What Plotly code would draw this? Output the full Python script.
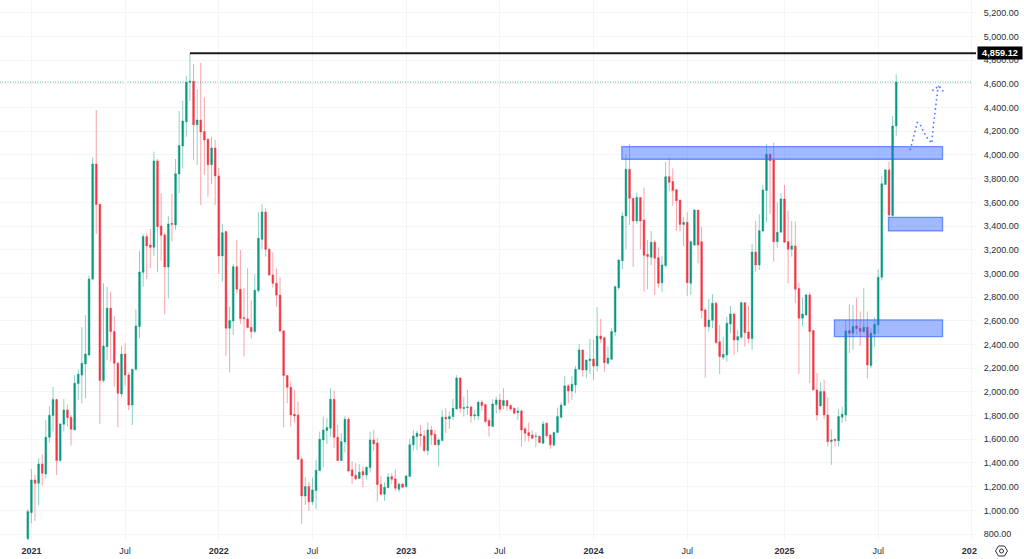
import pandas as pd
import plotly.graph_objects as go

# weekly candles
opens = [
    760,981,1257,1229,1392,1308,1617,1800,1935,1420,
    1727,1848,1786,1679,2070,2143,2236,2312,2951,3924,
    3584,2096,2382,2706,2509,2242,1983,2320,2143,1890,
    2191,2551,3010,3311,3240,3221,3949,3401,3325,3055,
    3423,3409,3840,4076,4281,4613,4622,4256,4295,4197,
    4132,3918,4059,3823,3148,3353,2537,2599,3057,2866,
    2627,2616,2546,2509,2855,
    3288,3519,3204,2987,2917,2818,2515,2138,2039,1811,
    1806,1432,1122,1201,1072,1167,1336,1595,1674,1693,
    1938,1617,1420,1578,1769,1342,1297,1269,1328,1299,
    1361,1595,1569,1218,1136,1192,1285,1266,1178,1223,
    1201,1285,1553,1623,1643,1628,1505,1679,1643,1553,
    1589,1786,1772,1792,1856,2118,1859,1868,1873,1797,
    1797,1913,1893,1758,1707,1893,1932,1885,1927,1885,
    1862,1825,1839,1688,1657,1637,1623,1626,1567,1736,
    1637,1550,1657,1786,1887,2051,2008,2059,2191,2354,
    2185,2264,2278,2219,
    2472,2458,2241,2275,2506,2880,3108,3485,3879,3634,
    3443,3642,3451,3159,3136,3263,3133,2922,3066,3817,
    3775,3707,3620,3414,3431,2917,3240,3535,3268,2692,
    2551,2604,2748,2424,2292,2312,2573,2658,2438,2461,
    2753,2506,2450,3181,3071,3358,3699,4005,3957,3268,
    3348,3629,3269,3204,3232,2872,2622,2650,2819,2518,
    2017,1882,2003,1806,1581,1601,1587,1786,1806,2518,
    2495,2557,2537,2509,2546,2222,2490,2566,2968,3750,
    3874,3488,4245,
]
closes = [
    990,1257,1229,1392,1314,1617,1803,1935,1420,1730,
    1848,1783,1685,2073,2149,2242,2320,2954,3924,3581,
    2096,2388,2706,2509,2242,1989,2320,2143,1890,2191,
    2557,3013,3311,3232,3221,3949,3395,3322,3055,3418,
    3415,3842,4079,4287,4613,4622,4256,4295,4194,4127,
    3918,4059,3823,3148,3344,2537,2602,3057,2866,2619,
    2619,2543,2509,2858,3297,
    3519,3204,2987,2917,2818,2515,2138,2039,1806,1797,
    1432,1122,1201,1072,1173,1339,1600,1679,1699,1938,
    1617,1420,1581,1769,1333,1291,1266,1322,1299,1364,
    1595,1561,1218,1136,1195,1282,1263,1187,1221,1195,
    1291,1555,1628,1651,1631,1505,1679,1637,1553,1595,
    1786,1772,1792,1862,2118,1862,1868,1873,1797,1806,
    1913,1885,1750,1713,1898,1932,1854,1927,1882,1856,
    1820,1839,1679,1651,1631,1609,1626,1572,1730,1631,
    1553,1657,1792,1890,2051,2008,2065,2191,2354,2185,
    2270,2278,2219,2472,
    2447,2247,2286,2509,2888,3113,3485,3879,3634,3443,
    3642,3443,3153,3142,3263,3128,2917,3071,3817,3769,
    3699,3614,3414,3431,2922,3268,3535,3240,2686,2551,
    2607,2748,2416,2298,2317,2579,2658,2438,2467,2753,
    2500,2450,3181,3071,3361,3704,4005,3952,3268,3347,
    3629,3263,3204,3232,2867,2622,2658,2819,2509,2017,
    1806,2003,1806,1581,1595,1590,1792,1812,2515,2495,
    2552,2535,2509,2546,2228,2495,2571,2968,3756,3874,
    3494,4245,4615,
]
highs = [
    1010,1350,1300,1440,1474,1764,1879,2042,1941,1735,
    1941,1893,1806,2143,2191,2546,2647,2982,3980,4380,
    3590,2917,2889,2847,2641,2256,2391,2411,2166,2194,
    2698,3190,3333,3339,3375,4028,3966,3676,3344,3485,
    3671,3966,4371,4458,4667,4859.12,4768,4554,4779,4487,
    4141,4155,4127,3893,3418,3359,2720,3080,3283,3198,
    2875,3043,2770,2993,3519,
    3586,3550,3212,3176,3038,2968,2523,2143,2087,2017,
    1918,1454,1280,1238,1277,1426,1665,1792,1778,2031,
    2011,1721,1651,1797,1786,1412,1398,1390,1370,1370,
    1665,1679,1609,1291,1238,1313,1313,1347,1235,1229,
    1299,1600,1679,1674,1721,1674,1744,1713,1679,1609,
    1848,1862,1834,1941,2141,2124,1960,2017,1885,1848,
    1927,1932,1898,1778,1938,1960,1983,2031,1932,1898,
    1870,1870,1853,1702,1741,1674,1659,1631,1755,1744,
    1643,1665,1868,1913,2135,2068,2135,2219,2405,2354,
    2270,2447,2439,2714,
    2616,2467,2382,2537,2897,3119,3516,4000,4092,3634,
    3682,3642,3724,3282,3358,3282,3220,3147,3943,3972,
    3887,3713,3620,3479,3516,3277,3544,3535,3395,2706,
    2784,2824,2762,2565,2467,2635,2725,2669,2523,2762,
    2759,2725,3248,3443,3499,3746,4092,4014,4104,3600,
    3677,3747,3528,3443,3438,2923,2799,2827,2841,2523,
    2158,2079,2102,1955,1685,1601,1854,1876,2608,2740,
    2734,2791,2678,2875,2678,2537,2630,3035,3823,3882,
    3944,4329,4681,
]
lows = [
    740,892,911,1041,1209,1271,1572,1665,1297,1412,
    1665,1707,1547,1679,1932,1903,1945,2304,2951,3333,
    1730,2079,2270,2256,2045,1702,1960,2050,1848,1721,
    2180,2453,2889,2954,3046,3148,3010,3108,2655,2788,
    3271,3370,3677,3888,4155,4456,3958,3916,3578,3831,
    3648,3755,3578,2996,2931,2304,2163,2481,2832,2574,
    2298,2537,2450,2500,2838,
    3207,3142,2979,2880,2720,2500,1702,1904,1707,1741,
    1426,886,1046,998,1046,1010,1333,1364,1561,1617,
    1525,1420,1420,1488,1328,1223,1257,1263,1195,1263,
    1319,1505,1074,1131,1080,1187,1223,1164,1153,1187,
    1192,1285,1505,1510,1539,1488,1468,1553,1553,1370,
    1581,1651,1688,1764,1853,1825,1792,1806,1741,1764,
    1764,1842,1736,1623,1707,1820,1825,1854,1842,1842,
    1811,1764,1539,1581,1581,1600,1533,1567,1561,1609,
    1519,1544,1657,1778,1887,1904,1932,1989,2185,2129,
    2115,2149,2101,2172,
    2410,2171,2233,2270,2472,2860,3035,3203,3409,3057,
    3417,3203,2846,2866,3069,2818,2880,2846,3052,3699,
    3572,3361,3353,3232,2812,2818,3232,3085,2621,2121,
    2509,2537,2405,2151,2270,2256,2495,2312,2334,2444,
    2382,2410,2354,3015,3029,3350,3429,3502,3099,3218,
    3348,3260,2917,3142,2748,2152,2552,2642,2073,2017,
    1758,1876,1770,1539,1384,1539,1539,1736,1750,2326,
    2355,2481,2388,2495,2115,2200,2377,2495,2940,3747,
    3480,3480,4163,
]
first_week = '2020-12-28'
peak_index = 45
peak_label = '4,859.12'

tick_dates = ['2021-01-04','2021-07-05','2022-01-03','2022-07-04','2023-01-02','2023-07-03',
              '2024-01-01','2024-07-01','2025-01-06','2025-07-07','2026-01-05']
tick_text = ['<b>2021</b>','Jul','<b>2022</b>','Jul','<b>2023</b>','Jul',
             '<b>2024</b>','Jul','<b>2025</b>','Jul','<b>202</b>\u00a0\u00a0']
price_ticks = [800,1000,1200,1400,1600,1800,2000,2200,2400,2600,2800,3000,3200,3400,3600,
               3800,4000,4200,4400,4600,4800,5000,5200]

# hand drawn boxes (start, end, top, bottom)
zone_starts = ['2024-02-25','2025-07-27','2025-04-13']
zone_ends = ['2025-11-09','2025-11-09','2025-11-09']
zone_tops = [4071,3474,2608]
zone_bottoms = [3964,3359,2467]

# dotted projection and its arrow head
path_dates = ['2025-09-07','2025-09-12','2025-09-17','2025-09-21','2025-09-27','2025-10-03',
              '2025-10-11','2025-10-19','2025-10-22','2025-10-27','2025-10-31','2025-11-02']
path_prices = [4042,4127,4225,4273,4253,4197,4141,4099,4239,4436,4563,4583]
head_dates = ['2025-10-20','2025-11-02','2025-11-14']
head_prices = [4543,4583,4515]

green = '#089981'
red = '#F23645'
grid = '#f5f5f6'
text_col = '#2a2e39'

x_start, x_end = '2020-11-04', '2026-01-13'
W, H, R, B = 1024, 559, 48, 19
plot_w, plot_h = W - R, H - B

dates = pd.date_range(first_week, periods=len(opens), freq='7D')

fig = go.Figure()
fig.add_trace(go.Candlestick(
    x=dates, open=opens, high=highs, low=lows, close=closes,
    increasing=dict(line=dict(color='rgba(8,153,129,0.65)', width=0.7), fillcolor=green),
    decreasing=dict(line=dict(color='rgba(242,54,69,0.65)', width=0.7), fillcolor=red),
    whiskerwidth=0,
    showlegend=False,
))
fig.add_trace(go.Scatter(x=path_dates, y=path_prices, mode='lines',
                         line=dict(color='#4f7dff', width=1.6, dash='1.6px,3px'), showlegend=False))
fig.add_trace(go.Scatter(x=head_dates, y=head_prices, mode='lines',
                         line=dict(color='#4f7dff', width=1.6, dash='1.6px,3px'), showlegend=False))

# last price + all time high lines
fig.add_shape(type='line', x0=x_start, x1='2026-01-05', y0=closes[-1], y1=closes[-1],
              line=dict(color='rgba(8,153,129,0.7)', width=1, dash='1px,1.5px'), layer='below')
fig.add_shape(type='line', x0=dates[peak_index], x1=x_end, y0=highs[peak_index], y1=highs[peak_index],
              line=dict(color='#1c1c1c', width=2))

for x0, x1, y1, y0 in zip(zone_starts, zone_ends, zone_tops, zone_bottoms):
    fig.add_shape(type='rect', x0=x0, x1=x1, y0=y0, y1=y1,
                  fillcolor='rgba(41,98,255,0.44)',
                  line=dict(color='rgba(41,98,255,0.65)', width=1.3))

fig.add_annotation(x=977 / plot_w, xref='paper', xanchor='left', y=highs[peak_index], yref='y',
                   text='<b>' + peak_label + '</b>', showarrow=False,
                   bgcolor='#000000', width=44, height=12, borderpad=0,
                   font=dict(family='Liberation Sans', size=9.2, color='#ffffff'))

# little settings hexagon in the corner
cx, cy = 1001.5, 551
hex_pts = [(-3, -5), (3, -5), (6, 0), (3, 5), (-3, 5), (-6, 0)]
hex_path = 'M' + ' L'.join('%.5f %.5f' % ((cx + a) / plot_w, 1 - (cy + b) / plot_h) for a, b in hex_pts) + ' Z'
fig.add_shape(type='path', path=hex_path, xref='paper', yref='paper', line=dict(color=text_col, width=1))
fig.add_shape(type='circle', xref='paper', yref='paper',
              x0=(cx - 2) / plot_w, x1=(cx + 2) / plot_w, y0=1 - (cy + 2) / plot_h, y1=1 - (cy - 2) / plot_h,
              line=dict(color=text_col, width=1))

fig.update_layout(
    width=W, height=H,
    margin=dict(l=0, r=R, t=0, b=B),
    paper_bgcolor='white', plot_bgcolor='white',
    showlegend=False,
    xaxis=dict(type='date', range=[x_start, x_end], rangeslider=dict(visible=False),
               tickmode='array', tickvals=tick_dates, ticktext=tick_text,
               showgrid=True, gridcolor=grid, gridwidth=1, zeroline=False, showline=False,
               ticks='outside', ticklen=2, tickcolor='rgba(0,0,0,0)', tickangle=0,
               tickfont=dict(family='Liberation Sans', size=9, color=text_col)),
    yaxis=dict(side='right', range=[750, 5308], tickmode='array', tickvals=price_ticks,
               tickformat=',.2f', showgrid=True, gridcolor=grid, gridwidth=1, zeroline=False,
               showline=False, ticks='outside', ticklen=5, tickcolor='rgba(0,0,0,0)',
               tickfont=dict(family='Liberation Sans', size=9, color=text_col)),
)

fig.write_html("out.html", config={'displayModeBar': False}, post_script="document.body.style.margin='0';")
